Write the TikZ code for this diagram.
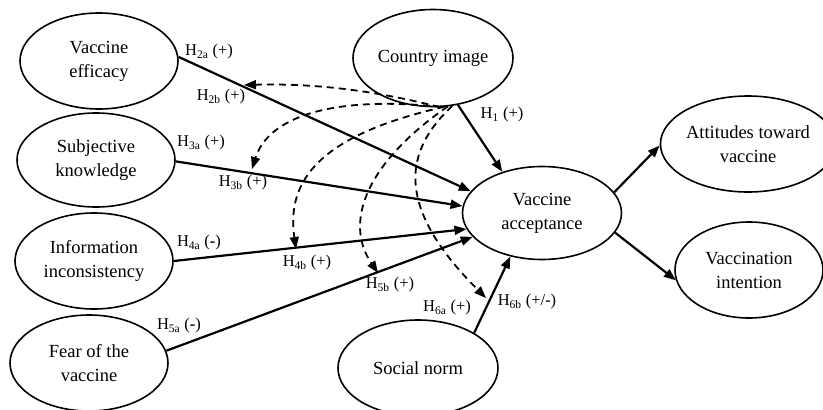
\documentclass[tikz,border=0pt]{standalone}
\usepackage{fontspec}
\setmainfont{Liberation Serif}
\usetikzlibrary{shapes.geometric,arrows.meta}
\begin{document}
\begin{tikzpicture}[x=1pt,y=-1pt,
  construct/.style={draw,ellipse,line width=1.6pt,inner sep=0pt,align=center,
    font=\fontsize{18.5}{24}\selectfont,minimum width=158pt,minimum height=96pt},
  path/.style={line width=2.2pt,-{Triangle[length=12pt,width=9pt]}},
  moder/.style={line width=1.8pt,dash pattern=on 7pt off 5pt,-{Triangle[length=12pt,width=9pt]}},
  hlab/.style={font=\fontsize{16.5}{18}\selectfont,inner sep=0pt}]
\useasboundingbox (0,0) rectangle (823,410);
% constructs
\node[construct] (ve) at (99,61) {Vaccine\\efficacy};
\node[construct,minimum height=94pt] (sk) at (96,160) {Subjective\\knowledge};
\node[construct] (ii) at (94,261) {Information\\inconsistency};
\node[construct] (fv) at (89,363) {Fear of the\\vaccine};
\node[construct,minimum width=160pt,minimum height=97pt] (ci) at (433,58) {Country image};
\node[construct,minimum width=159pt,minimum height=93pt] (va) at (542,213) {Vaccine\\acceptance};
\node[construct,minimum width=150pt] (at) at (748,144) {Attitudes toward\\vaccine};
\node[construct,minimum width=148pt] (vi) at (749,270) {Vaccination\\intention};
\node[construct,minimum width=160pt] (sn) at (418,368) {Social norm};
% direct paths
\draw[path] (ve.3) -- (va.163);
\draw[path] (sk.-1) -- (va.175);
\draw[path] (ii.0) -- (va.192);
\draw[path] (fv.9) -- (va.199);
\draw[path] (ci.-62) -- (va.134);
\draw[path] (sn.32) -- (va.234);
\draw[path] (va.16) -- (at.181);
\draw[path] (va.-15) -- (vi.188);
% moderation tips
\coordinate (m2) at (244,85);
\coordinate (m3) at (252,169);
\coordinate (m4) at (296,249);
\coordinate (m5) at (378,273);
\coordinate (m6) at (486,298);
\draw[moder] (ci.-82) .. controls (380,92) and (320,83) .. (m2);
\draw[moder] (ci.-80) .. controls (330,95) and (268,118) .. (m3);
\draw[moder] (ci.-77) .. controls (320,135) and (286,180) .. (m4);
\draw[moder] (ci.-73) .. controls (370,160) and (342,220) .. (m5);
\draw[moder] (ci.-68) .. controls (405,150) and (393,205) .. (m6);
% labels
\node[hlab] (l2a) at (209,52) {H\textsubscript{2a} (+)};
\node[hlab] (l2b) at (221,97) {H\textsubscript{2b} (+)};
\node[hlab] (l3a) at (201,143) {H\textsubscript{3a} (+)};
\node[hlab] (l3b) at (243,183) {H\textsubscript{3b} (+)};
\node[hlab] (l4a) at (199,243) {H\textsubscript{4a} (\textbf{-})};
\node[hlab] (l4b) at (307,263) {H\textsubscript{4b} (+)};
\node[hlab] (l5b) at (390,285) {H\textsubscript{5b} (+)};
\node[hlab] (l5a) at (179,326) {H\textsubscript{5a} (\textbf{-})};
\node[hlab] (l1) at (502,115) {H\textsubscript{1} (+)};
\node[hlab] (l6a) at (447,308) {H\textsubscript{6a} (+)};
\node[hlab] (l6b) at (527,302) {H\textsubscript{6b} (+/-)};
\end{tikzpicture}
\end{document}
